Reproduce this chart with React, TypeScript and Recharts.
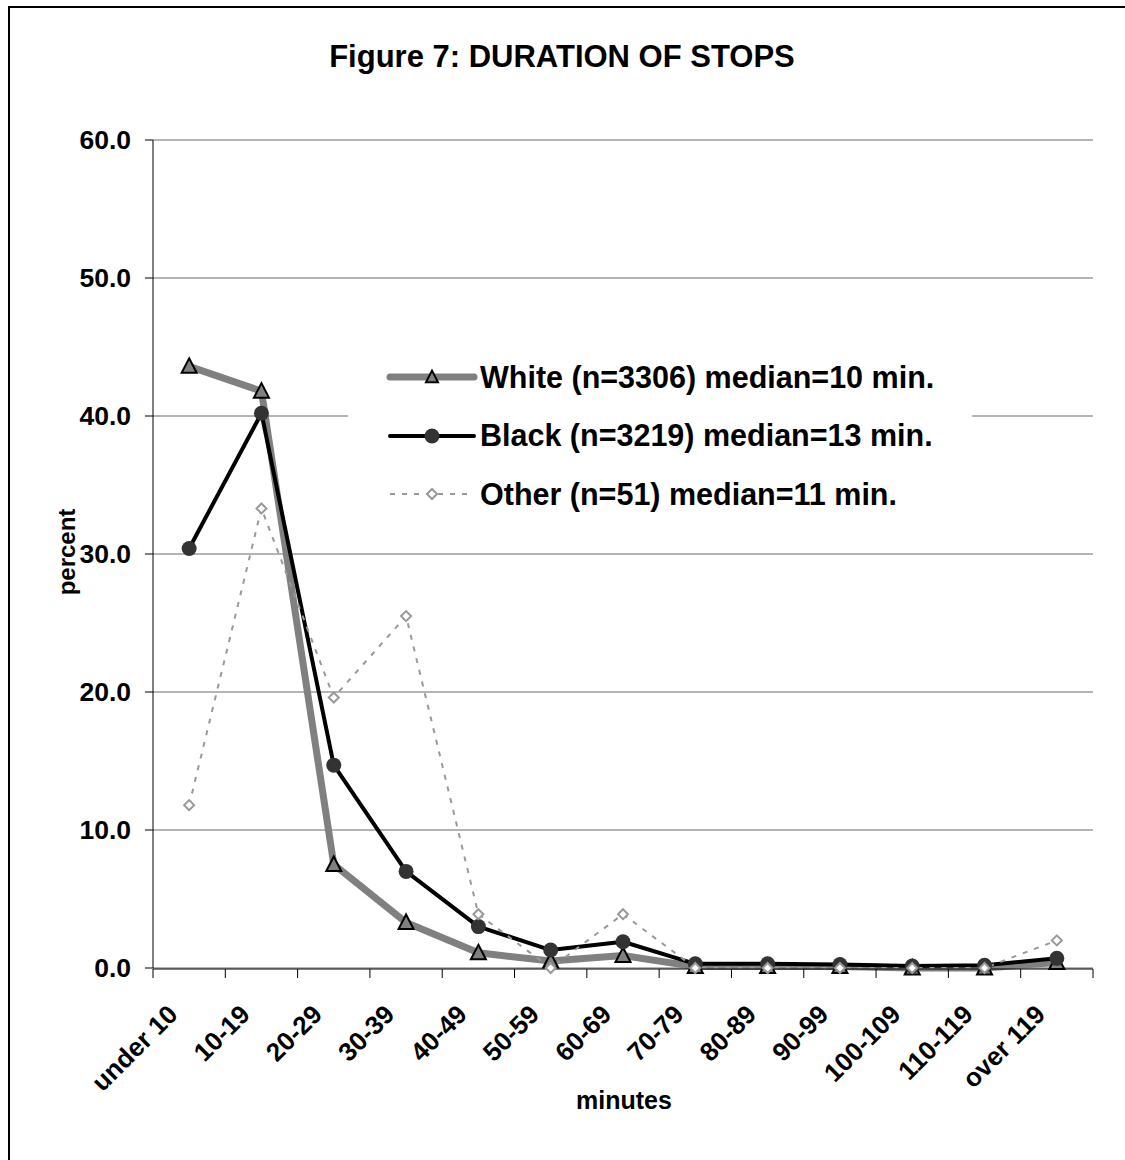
import { CartesianGrid, Legend, Line, LineChart, XAxis, YAxis } from "recharts";

const categories = [
  "under 10",
  "10-19",
  "20-29",
  "30-39",
  "40-49",
  "50-59",
  "60-69",
  "70-79",
  "80-89",
  "90-99",
  "100-109",
  "110-119",
  "over 119",
];
const whiteValues = [43.6, 41.8, 7.5, 3.3, 1.1, 0.5, 0.9, 0.1, 0.1, 0.1, 0.0, 0.0, 0.4];
const blackValues = [30.4, 40.2, 14.7, 7.0, 3.0, 1.3, 1.9, 0.3, 0.3, 0.25, 0.15, 0.2, 0.7];
const otherValues = [11.8, 33.3, 19.6, 25.5, 3.9, 0.0, 3.9, 0.0, 0.0, 0.0, 0.0, 0.0, 2.0];
const seriesLabels = [
  "White (n=3306) median=10 min.",
  "Black (n=3219) median=13 min.",
  "Other (n=51) median=11 min.",
];
const yTicks = [0, 10, 20, 30, 40, 50, 60];

const data = categories.map((name, i) => ({
  name,
  pos: i + 0.5,
  white: whiteValues[i],
  black: blackValues[i],
  other: otherValues[i],
}));
const boundaryTicks = categories.map((_, i) => i).concat([categories.length]);
const centerTicks = data.map((d) => d.pos);

const FONT = '"Liberation Sans", Arial, sans-serif';

function Triangle({ cx, cy, size = 1 }: any) {
  const w = 7.5 * size;
  return (
    <path
      d={`M${cx},${cy - 8 * size} L${cx + w},${cy + 6.5 * size} L${cx - w},${cy + 6.5 * size} Z`}
      fill="#808080"
      stroke="#000"
      strokeWidth={2}
      strokeLinejoin="miter"
    />
  );
}

function Diamond({ cx, cy }: any) {
  return (
    <path
      d={`M${cx},${cy - 5} L${cx + 5},${cy} L${cx},${cy + 5} L${cx - 5},${cy} Z`}
      fill="#fff"
      stroke="#999"
      strokeWidth={2}
    />
  );
}

function CategoryTick({ x, payload }: any) {
  const label = categories[Math.floor(payload.value)];
  const tx = x - 10;
  const ty = 1016;
  return (
    <text
      x={tx}
      y={ty}
      transform={`rotate(-45, ${tx}, ${ty})`}
      textAnchor="end"
      fontFamily={FONT}
      fontWeight="bold"
      fontSize={26}
      fill="#000"
    >
      {label}
    </text>
  );
}

function LegendBox() {
  return (
    <div style={{ background: "#fff", width: 624, height: 165, position: "relative" }}>
      {seriesLabels.map((label, i) => (
        <div
          key={label}
          style={{
            position: "absolute",
            left: 36,
            top: 27 + i * 58.5 - 20,
            height: 40,
            display: "flex",
            alignItems: "center",
            whiteSpace: "nowrap",
          }}
        >
          <svg width={96} height={40}>
            {i === 0 && (
              <g>
                <line x1={6} y1={20} x2={90} y2={20} stroke="#808080" strokeWidth={7} strokeLinecap="round" />
                <Triangle cx={48} cy={20} size={0.8} />
              </g>
            )}
            {i === 1 && (
              <g>
                <line x1={6} y1={20} x2={90} y2={20} stroke="#000" strokeWidth={4} strokeLinecap="round" />
                <circle cx={48} cy={20} r={7.5} fill="#333" />
              </g>
            )}
            {i === 2 && (
              <g>
                <line x1={6} y1={20} x2={90} y2={20} stroke="#999" strokeWidth={2} strokeDasharray="5 7" />
                <Diamond cx={48} cy={20} />
              </g>
            )}
          </svg>
          <span style={{ fontFamily: FONT, fontWeight: "bold", fontSize: 30.5, color: "#000" }}>{label}</span>
        </div>
      ))}
    </div>
  );
}

export default function App() {
  return (
    <div style={{ position: "absolute", left: 0, top: 0, width: 1125, height: 1160, background: "#fff", overflow: "hidden" }}>
      <style>{`body{margin:0;overflow:hidden;background:#fff}`}</style>
      <div
        style={{
          position: "absolute",
          left: 8,
          top: 6,
          width: 1300,
          height: 1300,
          border: "2px solid #000",
          boxSizing: "border-box",
        }}
      />
      <div style={{ position: "absolute", left: 0, top: 0 }}>
        <LineChart width={1125} height={1160} data={data} margin={{ top: 140, right: 32, bottom: 190, left: 152 }}>
          <CartesianGrid vertical={false} stroke="#b4b4b4" strokeWidth={2} xAxisId="ticks" />
          <XAxis
            xAxisId="ticks"
            type="number"
            dataKey="pos"
            domain={[0, categories.length]}
            ticks={boundaryTicks}
            interval={0}
            height={1}
            tickSize={9}
            tickFormatter={() => ""}
            axisLine={{ stroke: "#000", strokeWidth: 1 }}
            tickLine={{ stroke: "#000", strokeWidth: 1 }}
          />
          <XAxis
            xAxisId="labels"
            type="number"
            dataKey="pos"
            domain={[0, categories.length]}
            ticks={centerTicks}
            interval={0}
            height={1}
            tickSize={0}
            tickLine={false}
            axisLine={false}
            tick={<CategoryTick />}
          />
          <YAxis
            type="number"
            domain={[0, 60]}
            ticks={yTicks}
            interval={0}
            width={1}
            tickSize={8}
            tickMargin={14}
            tickFormatter={(v: number) => v.toFixed(1)}
            axisLine={{ stroke: "#000", strokeWidth: 1 }}
            tickLine={{ stroke: "#000", strokeWidth: 1 }}
            tick={{ fontFamily: FONT, fontWeight: "bold", fontSize: 26.5, fill: "#000" }}
          />
          <Legend
            layout="vertical"
            align="center"
            verticalAlign="middle"
            content={<LegendBox />}
            wrapperStyle={{ left: 348, top: 350, width: 624, height: 165 }}
          />
          <Line
            xAxisId="labels"
            dataKey="white"
            stroke="#808080"
            strokeWidth={7}
            strokeLinejoin="round"
            dot={(p: any) => <Triangle key={`w${p.index}`} cx={p.cx} cy={p.cy} />}
            activeDot={false}
            isAnimationActive={false}
          />
          <Line
            xAxisId="labels"
            dataKey="black"
            stroke="#000"
            strokeWidth={4}
            strokeLinejoin="round"
            dot={(p: any) => <circle key={`b${p.index}`} cx={p.cx} cy={p.cy} r={7.5} fill="#333" />}
            activeDot={false}
            isAnimationActive={false}
          />
          <Line
            xAxisId="labels"
            dataKey="other"
            stroke="#999"
            strokeWidth={2}
            strokeDasharray="5 7"
            dot={(p: any) => <Diamond key={`o${p.index}`} cx={p.cx} cy={p.cy} />}
            activeDot={false}
            isAnimationActive={false}
          />
        </LineChart>
      </div>
      <svg width={1125} height={1160} style={{ position: "absolute", left: 0, top: 0, pointerEvents: "none" }}>
        <text x={562} y={67} textAnchor="middle" fontFamily={FONT} fontWeight="bold" fontSize={31}>
          Figure 7: DURATION OF STOPS
        </text>
        <text
          x={75}
          y={552}
          transform="rotate(-90, 75, 552)"
          textAnchor="middle"
          fontFamily={FONT}
          fontWeight="bold"
          fontSize={24}
        >
          percent
        </text>
        <text x={624} y={1109} textAnchor="middle" fontFamily={FONT} fontWeight="bold" fontSize={25}>
          minutes
        </text>
      </svg>
    </div>
  );
}
